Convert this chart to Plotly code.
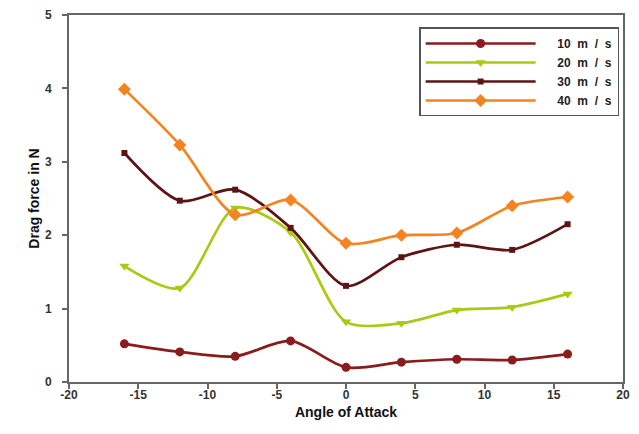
import plotly.graph_objects as go

angles = [-16, -12, -8, -4, 0, 4, 8, 12, 16]
v10 = [0.52, 0.41, 0.35, 0.56, 0.20, 0.27, 0.31, 0.30, 0.38]
v20 = [1.58, 1.28, 2.37, 2.04, 0.82, 0.80, 0.98, 1.02, 1.20]
v30 = [3.12, 2.47, 2.62, 2.10, 1.31, 1.70, 1.87, 1.80, 2.15]
v40 = [3.99, 3.23, 2.28, 2.48, 1.89, 2.00, 2.03, 2.40, 2.52]

x_ticks = [-20, -15, -10, -5, 0, 5, 10, 15, 20]
y_ticks = [0, 1, 2, 3, 4, 5]

NB = "\u00a0"
series = [
    ("10 m / s", v10, "#8B1C1C", "circle", 9),
    ("20 m / s", v20, "#A9C914", "triangle-down", 9),
    ("30 m / s", v30, "#5E1414", "square", 6),
    ("40 m / s", v40, "#F5831F", "diamond", 10),
]

fig = go.Figure()
for name, vals, color, sym, size in series:
    label = NB * 5 + name.replace(" ", NB * 2)
    fig.add_trace(go.Scatter(
        x=angles, y=vals, name=label, mode="lines+markers",
        line=dict(color=color, width=2.7, shape="spline", smoothing=0.8),
        marker=dict(symbol=sym, size=size, color=color),
    ))

axis_font = dict(family="Arial, Liberation Sans, sans-serif", size=12, color="#333333")
# page body has an 8px default margin; figure is sized to fit inside the window
fig.update_layout(
    width=631, height=426,
    margin=dict(l=61, r=16, t=7, b=52),
    paper_bgcolor="white", plot_bgcolor="white",
    font=dict(family="Arial, Liberation Sans, sans-serif", color="#222222"),
    showlegend=True,
    legend=dict(
        x=0.632, y=0.966, xanchor="left", yanchor="top",
        bgcolor="white", bordercolor="#555555", borderwidth=1.5,
        font=dict(size=12, color="#222222", family="Arial, Liberation Sans, sans-serif", weight="bold"),
        itemwidth=110, tracegroupgap=0,
    ),
    xaxis=dict(
        range=[-20, 20], tickvals=x_ticks, ticktext=[f"<b>{t}</b>" for t in x_ticks],
        showgrid=False, zeroline=False, automargin=False,
        showline=True, linecolor="#666666", linewidth=2, mirror=True,
        ticks="outside", ticklen=5, tickcolor="#666666", tickwidth=2,
        tickfont=axis_font, ticklabelstandoff=-4,
        title=dict(text="<b>Angle of Attack</b>", font=dict(size=14, color="#111111"), standoff=6),
    ),
    yaxis=dict(
        range=[0, 5], tickvals=y_ticks, ticktext=[f"<b>{t}</b>" for t in y_ticks],
        showgrid=False, zeroline=False, automargin=False,
        showline=True, linecolor="#666666", linewidth=2, mirror=True,
        ticks="outside", ticklen=5, tickcolor="#666666", tickwidth=2,
        tickfont=axis_font, ticklabelstandoff=8,
        title=dict(text="<b>Drag force in N</b>", font=dict(size=14, color="#111111"), standoff=2),
    ),
)

fig.write_html("out.html")
